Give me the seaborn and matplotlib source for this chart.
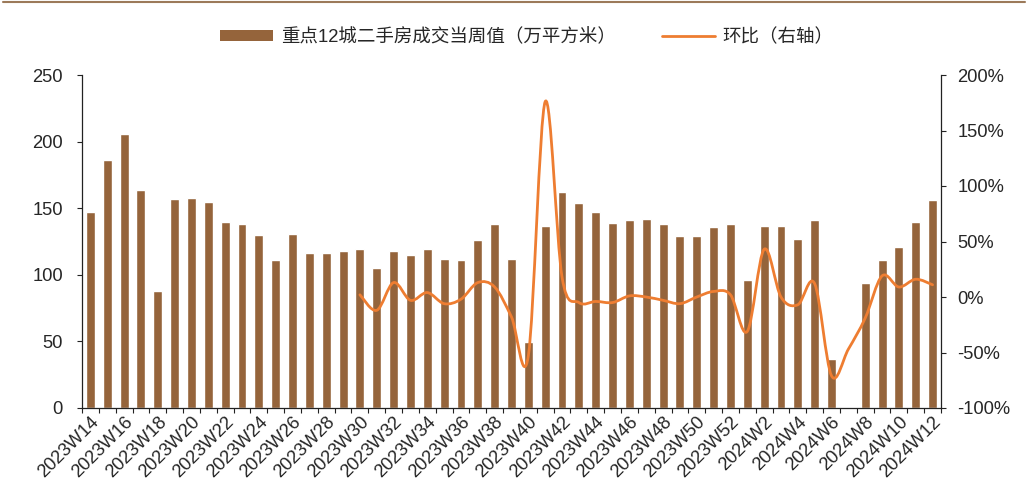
import numpy as np
import pandas as pd
import matplotlib
matplotlib.use("Agg")
import matplotlib.pyplot as plt
from matplotlib.path import Path
from matplotlib.patches import PathPatch, Patch
from matplotlib.lines import Line2D
import seaborn as sns

# ---------------- data ----------------
weeks_2023 = [f"2023W{i}" for i in range(14, 53)]
weeks_2024 = [f"2024W{i}" for i in range(1, 13)]
categories = weeks_2023 + weeks_2024

volume_2023 = [147, 186, 206, 163.5, 87.5, 157, 158, 155, 140, 138,
               130, 111, 131, 116, 116, 117.5, 119.5, 105, 118, 114.5,
               119.5, 112, 111, 126.5, 138, 112, 49.5, 137, 162, 154,
               147, 139, 141, 142, 138, 129, 129, 136, 138.5]
volume_2024 = [96, 137, 137, 127, 141, 37, np.nan, 94, 111, 121, 140, 156]
volume = volume_2023 + volume_2024

mom_start = "2023W30"
mom = [2, -12, 13, -3, 4, -6, -2, 13, 9, -18, -53, 176, 18, -5, -4, -5,
       1, 0, -3, -6, 0, 5, 2, -31, 43, 0, -7, 12, -71, -47, -19, 19, 9, 16, 11]

legend_bar = "重点12城二手房成交当周值（万平方米）"
legend_line = "环比（右轴）"
left_ticks = [0, 50, 100, 150, 200, 250]
right_ticks = [-100, -50, 0, 50, 100, 150, 200]

# ---------------- style ----------------
BAR = "#95643B"
LINE = "#EE7D31"
sns.set_style("ticks")
plt.rcParams["font.family"] = ["Liberation Sans", "Noto Sans CJK SC", "DejaVu Sans"]

fig = plt.figure(figsize=(10.28, 5.01), dpi=100)
ax = fig.add_axes([82 / 1028, 1 - 408 / 501, (941 - 82) / 1028, (408 - 75) / 501])

df = pd.DataFrame({"week": categories, "volume": volume})
sns.barplot(data=df, x="week", y="volume", order=categories, color=BAR,
            saturation=1, width=0.53, errorbar=None, ax=ax)

ax.set_xlim(-0.5, len(categories) - 0.5)
ax.set_ylim(0, 250)
ax.set_yticks(left_ticks)
ax.set_xlabel("")
ax.set_ylabel("")
ax.set_xticks(range(0, len(categories), 2))
ax.set_xticklabels(categories[::2], rotation=45, ha="right", va="top",
                   rotation_mode="anchor", fontsize=13.2)
ax.set_xticks(np.arange(-0.5, len(categories), 1), minor=True)
ax.tick_params(axis="x", which="major", length=0, pad=4)
ax.tick_params(axis="x", which="minor", length=3.8, width=0.8, direction="out", color="#222222")
ax.tick_params(axis="y", length=3.8, width=0.8, direction="out", pad=10,
               labelsize=13.2, color="#222222")
for s in ["left", "bottom"]:
    ax.spines[s].set_color("#222222")
    ax.spines[s].set_linewidth(0.9)
ax.spines["top"].set_visible(False)
ax.spines["right"].set_visible(False)

ax2 = ax.twinx()
ax2.set_ylim(-100, 200)
ax2.set_yticks(right_ticks)
ax2.set_yticklabels([f"{t}%" for t in right_ticks])
ax2.tick_params(axis="y", length=3.8, width=0.8, direction="out", pad=8,
                labelsize=13.2, color="#222222")
for s in ["top", "left", "bottom"]:
    ax2.spines[s].set_visible(False)
ax2.spines["right"].set_color("#222222")
ax2.spines["right"].set_linewidth(0.9)

# smoothed line (Bezier through data points)
i0 = categories.index(mom_start)
xs = np.arange(i0, i0 + len(mom))
pts = np.column_stack([xs, mom]).astype(float)
n = len(pts)
verts = [pts[0]]
codes = [Path.MOVETO]
for i in range(n - 1):
    p0 = pts[max(i - 1, 0)]
    p1 = pts[i]
    p2 = pts[i + 1]
    p3 = pts[min(i + 2, n - 1)]
    verts += [p1 + (p2 - p0) / 6, p2 - (p3 - p1) / 6, p2]
    codes += [Path.CURVE4] * 3
ax2.add_patch(PathPatch(Path(verts, codes), fill=False, edgecolor=LINE,
                        lw=2.0, transform=ax2.transData, capstyle="round",
                        joinstyle="round"))

# legend
handles = [Patch(facecolor=BAR, edgecolor="none"),
           Line2D([], [], color=LINE, lw=2.0)]
fig.legend(handles, [legend_bar, legend_line], loc="center", ncol=2,
           bbox_to_anchor=(0.5125, 0.926), frameon=False, fontsize=13.3,
           handlelength=2.9, handleheight=0.55, handletextpad=0.4,
           columnspacing=2.5)

# top border
fig.add_artist(Line2D([3 / 1028, 1025 / 1028], [1 - 2 / 501, 1 - 2 / 501],
                      transform=fig.transFigure, color="#9C7A5A", lw=1.5))

fig.savefig("out.png", dpi=100)
